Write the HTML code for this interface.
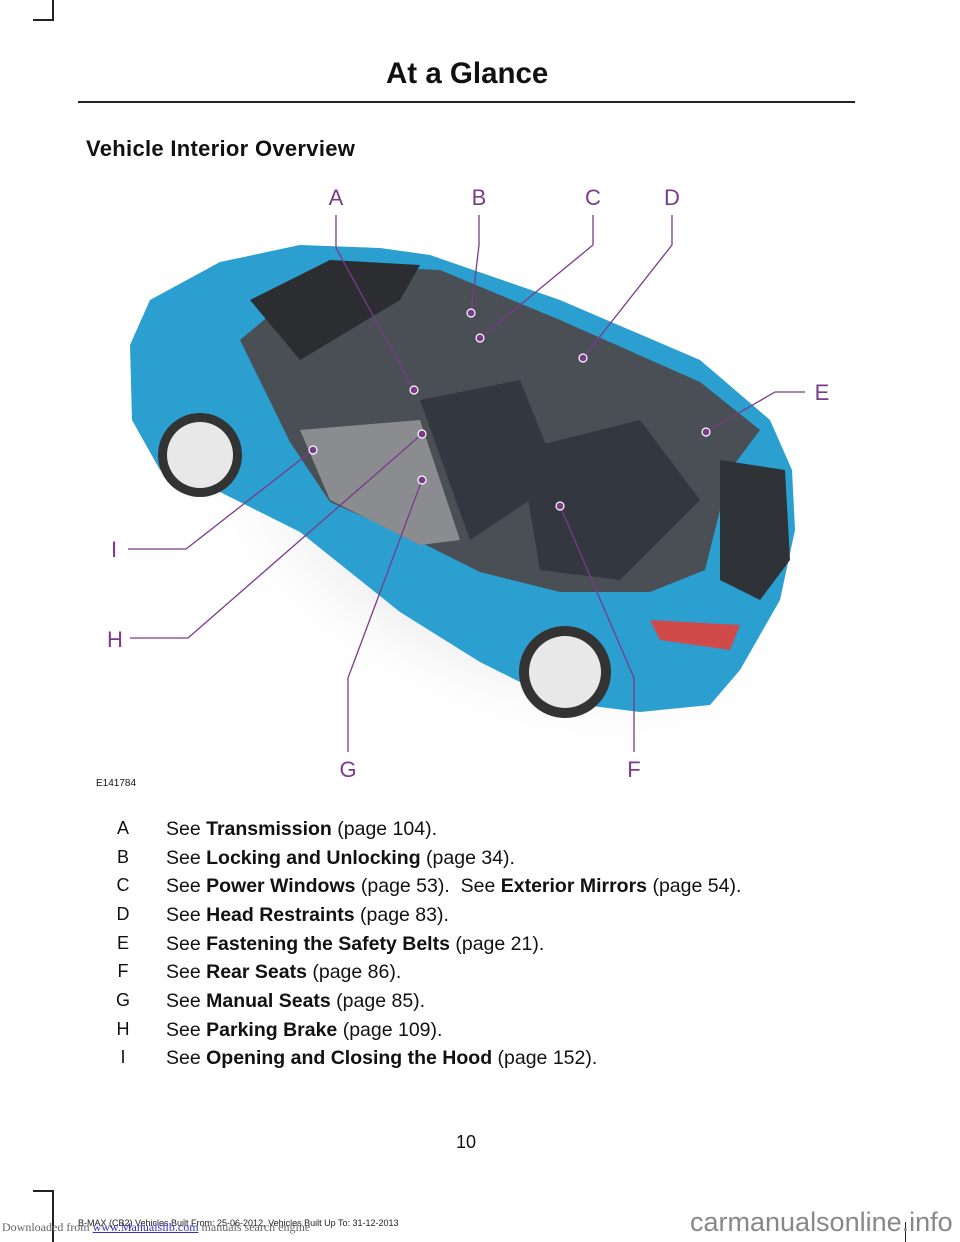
<!DOCTYPE html>
<html><head><meta charset="utf-8"><style>
body{margin:0;background:#fff;}
.p{position:relative;width:960px;height:1242px;overflow:hidden;font-family:"Liberation Sans",sans-serif;color:#111;}
.a{position:absolute;white-space:nowrap;}
.row{position:absolute;left:0;font-size:19.5px;}
.row .l{position:absolute;left:114px;width:18px;text-align:center;font-size:18px;}
.row .t{position:absolute;left:166px;white-space:nowrap;}
</style></head><body><div class="p">
<div class="a" style="left:52px;top:0;width:2px;height:20px;background:#222"></div>
<div class="a" style="left:33px;top:19px;width:21px;height:2px;background:#222"></div>
<div class="a" style="left:33px;top:1190px;width:21px;height:2px;background:#222"></div>
<div class="a" style="left:52px;top:1190px;width:2px;height:52px;background:#222"></div>
<div class="a" style="left:905px;top:1222px;width:1px;height:20px;background:#222"></div>
<div class="a" style="left:386px;top:57px;font-size:29.5px;font-weight:bold;">At a Glance</div>
<div class="a" style="left:78px;top:101px;width:777px;height:2px;background:#222"></div>
<div class="a" style="left:86px;top:136px;font-size:22px;font-weight:bold;letter-spacing:0.3px;">Vehicle Interior Overview</div>
<svg class="a" style="left:0;top:0" width="960" height="800">
<defs><radialGradient id="sh" cx="0.5" cy="0.5" r="0.5"><stop offset="0" stop-color="#999" stop-opacity=".5"/><stop offset="1" stop-color="#fff" stop-opacity="0"/></radialGradient></defs>
<ellipse cx="480" cy="560" rx="340" ry="170" fill="url(#sh)" transform="rotate(25 480 560)"/>
<path d="M130,345 L150,300 L220,262 L300,245 L380,248 L430,255 L560,300 L700,360 L770,420 L792,470 L795,530 L780,600 L740,670 L710,705 L640,712 L560,702 L480,662 L400,612 L300,532 L220,492 L160,470 L132,420 Z" fill="#2a9fd0"/>
<path d="M240,340 L330,265 L440,270 L560,320 L700,382 L760,430 L730,470 L705,570 L650,592 L560,592 L480,572 L420,542 L330,502 L290,442 Z" fill="#4a4e55"/>
<path d="M300,430 L420,420 L460,540 L420,545 L330,500 Z" fill="#8a8c8f"/>
<path d="M420,400 L520,380 L560,480 L470,540 Z" fill="#333840"/>
<path d="M520,450 L640,420 L700,500 L620,580 L540,570 Z" fill="#333840"/>
<path d="M250,300 L330,260 L420,265 L400,300 L300,360 Z" fill="#2b2d31"/>
<path d="M720,460 L785,470 L790,560 L760,600 L720,580 Z" fill="#2f3338"/>
<path d="M650,620 L740,625 L730,650 L660,640 Z" fill="#d04a4a"/>
<circle cx="200" cy="455" r="42" fill="#333"/><circle cx="200" cy="455" r="33" fill="#e8e8e8"/>
<circle cx="565" cy="672" r="46" fill="#333"/><circle cx="565" cy="672" r="36" fill="#e8e8e8"/>
<g stroke="#7a3b8b" stroke-width="1.3" fill="none">
<polyline points="336,215 336,248 414,390"/>
<polyline points="479,215 479,245 471,313"/>
<polyline points="593,215 593,245 480,338"/>
<polyline points="672,215 672,245 583,358"/>
<polyline points="805,392 775,392 706,432"/>
<polyline points="128,549 186,549 313,450"/>
<polyline points="130,638 188,638 422,434"/>
<polyline points="348,752 348,678 422,480"/>
<polyline points="634,752 634,678 560,506"/>
</g>
<g fill="#7a3b8b" stroke="#fff" stroke-width="1.2">
<circle cx="414" cy="390" r="4"/><circle cx="471" cy="313" r="4"/><circle cx="480" cy="338" r="4"/><circle cx="583" cy="358" r="4"/><circle cx="706" cy="432" r="4"/><circle cx="313" cy="450" r="4"/><circle cx="422" cy="434" r="4"/><circle cx="422" cy="480" r="4"/><circle cx="560" cy="506" r="4"/>
</g>
<g fill="#7a3b8b" font-family="Liberation Sans" font-size="22" text-anchor="middle">
<text x="336" y="205">A</text><text x="479" y="205">B</text><text x="593" y="205">C</text><text x="672" y="205">D</text>
<text x="822" y="400">E</text><text x="114" y="557">I</text><text x="115" y="647">H</text><text x="348" y="777">G</text><text x="634" y="777">F</text>
</g>
<text x="96" y="786" font-family="Liberation Sans" font-size="10" fill="#111">E141784</text>
</svg>
<div class="row" style="top:818px"><span class="l">A</span><span class="t">See <b>Transmission</b> (page 104).</span></div>
<div class="row" style="top:847px"><span class="l">B</span><span class="t">See <b>Locking and Unlocking</b> (page 34).</span></div>
<div class="row" style="top:875px"><span class="l">C</span><span class="t">See <b>Power Windows</b> (page 53).&nbsp; See <b>Exterior Mirrors</b> (page 54).</span></div>
<div class="row" style="top:904px"><span class="l">D</span><span class="t">See <b>Head Restraints</b> (page 83).</span></div>
<div class="row" style="top:933px"><span class="l">E</span><span class="t">See <b>Fastening the Safety Belts</b> (page 21).</span></div>
<div class="row" style="top:961px"><span class="l">F</span><span class="t">See <b>Rear Seats</b> (page 86).</span></div>
<div class="row" style="top:990px"><span class="l">G</span><span class="t">See <b>Manual Seats</b> (page 85).</span></div>
<div class="row" style="top:1019px"><span class="l">H</span><span class="t">See <b>Parking Brake</b> (page 109).</span></div>
<div class="row" style="top:1047px"><span class="l">I</span><span class="t">See <b>Opening and Closing the Hood</b> (page 152).</span></div>
<div class="a" style="left:456px;top:1132px;font-size:18px;">10</div>
<div class="a" style="left:78px;top:1218px;font-size:9px;color:#222;">B-MAX (CB2) Vehicles Built From: 25-06-2012, Vehicles Built Up To: 31-12-2013</div>
<div class="a" style="left:2px;top:1220px;font-size:12px;font-family:'Liberation Serif',serif;color:#666;">Downloaded from <span style="color:#33c;text-decoration:underline">www.Manualslib.com</span> manuals search engine</div>
<div class="a" style="left:690px;top:1207px;font-size:27px;color:#888;">carmanualsonline.info</div>
</div></body></html>
